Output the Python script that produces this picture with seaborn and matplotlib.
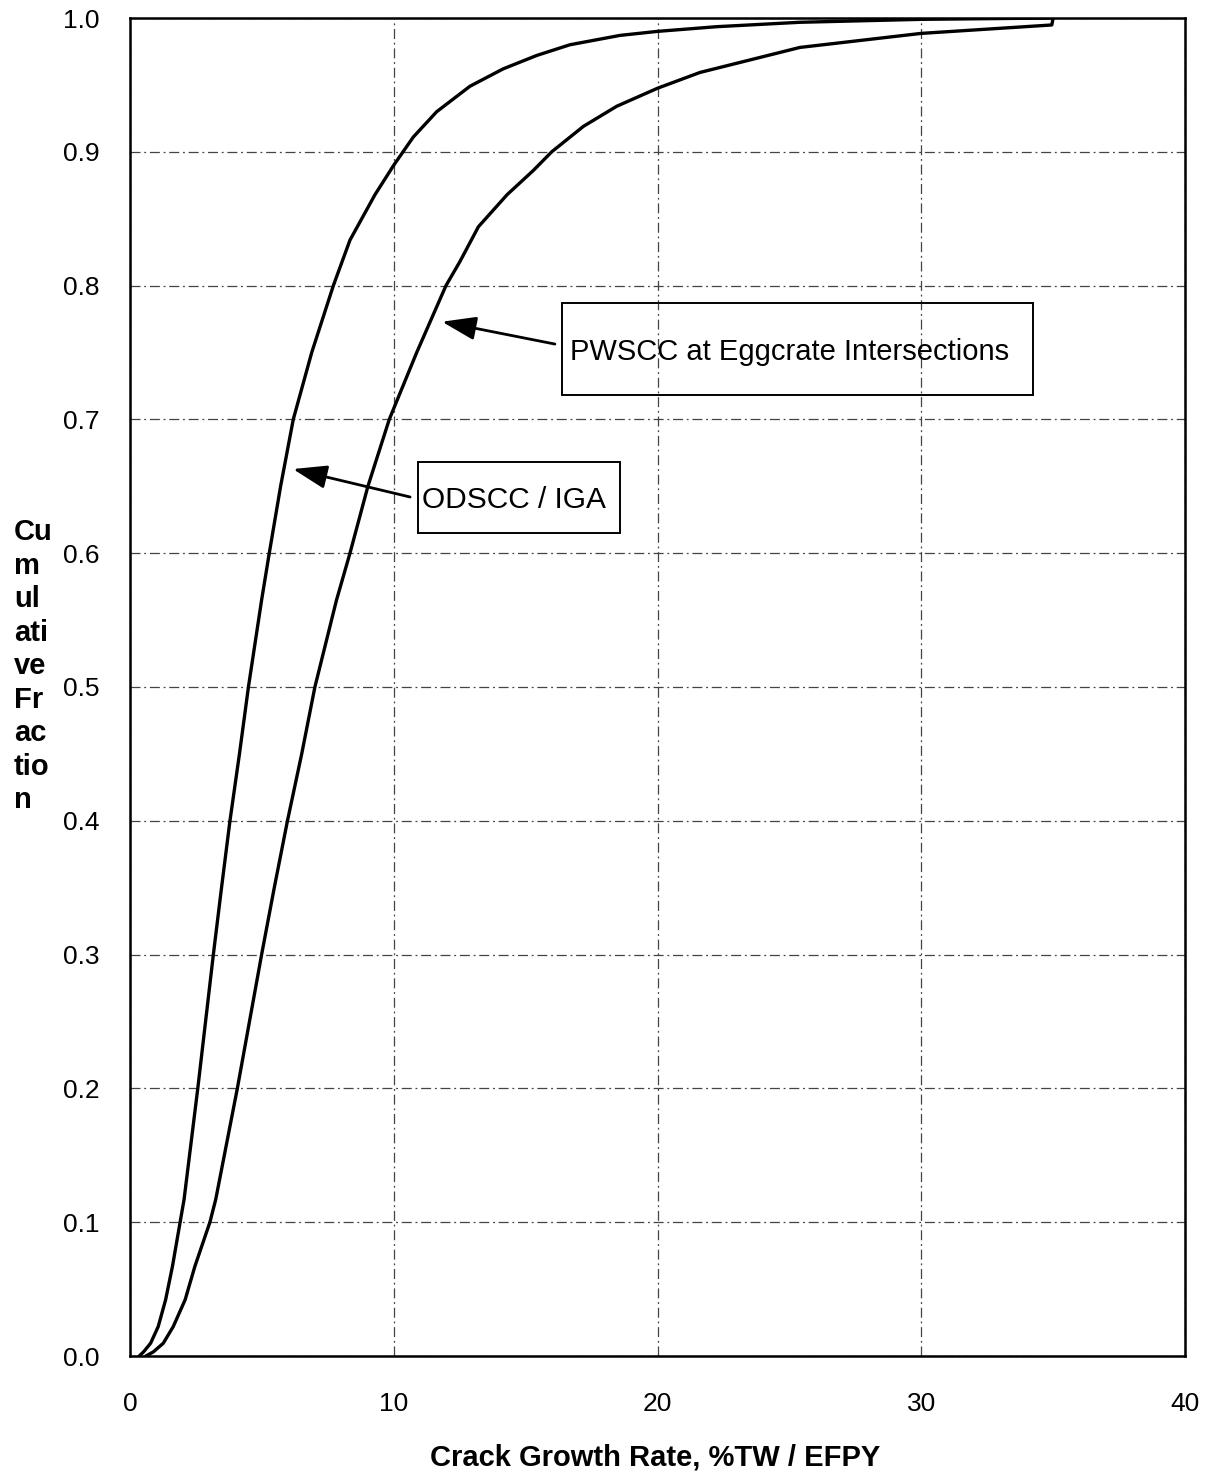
import matplotlib
matplotlib.use("Agg")
import matplotlib.pyplot as plt
from matplotlib.patches import Rectangle
import pandas as pd
import seaborn as sns

# Cumulative distributions of crack growth rate (%TW / EFPY)
odscc_rate = [0.35, 0.51, 0.78, 1.07, 1.35, 1.61, 1.90, 2.05, 2.57, 3.16, 3.47,
              3.79, 4.15, 4.49, 4.99, 5.28, 5.71, 6.19, 6.89, 7.71, 8.34, 9.29,
              10.0, 10.74, 11.63, 12.89, 14.15, 15.42, 16.68, 18.58, 20.0, 22.24,
              25.4, 30.0, 35.0]
odscc_frac = [0.0, 0.003, 0.0095, 0.022, 0.042, 0.067, 0.10, 0.117, 0.20, 0.30,
              0.35, 0.40, 0.45, 0.50, 0.565, 0.60, 0.65, 0.70, 0.75, 0.80, 0.834,
              0.868, 0.890, 0.911, 0.930, 0.949, 0.962, 0.972, 0.980, 0.987,
              0.990, 0.9935, 0.9968, 0.999, 1.0]

pwscc_rate = [0.60, 0.88, 1.26, 1.64, 2.09, 2.46, 3.03, 3.25, 4.07, 4.99, 5.47,
              5.97, 6.51, 7.01, 7.83, 8.34, 9.02, 9.83, 10.87, 11.98, 12.51,
              13.21, 14.30, 15.29, 15.99, 17.19, 18.45, 20.0, 21.61, 25.4, 30.0,
              34.95, 35.0]
pwscc_frac = [0.0, 0.003, 0.0095, 0.022, 0.042, 0.067, 0.10, 0.117, 0.20, 0.30,
              0.35, 0.40, 0.45, 0.50, 0.565, 0.60, 0.65, 0.70, 0.75, 0.80, 0.818,
              0.844, 0.868, 0.886, 0.90, 0.919, 0.934, 0.9475, 0.9593, 0.978,
              0.9885, 0.9948, 1.0]

x_ticks = [0, 10, 20, 30, 40]
y_ticks = [0.0, 0.1, 0.2, 0.3, 0.4, 0.5, 0.6, 0.7, 0.8, 0.9, 1.0]

sns.set_theme(style="white")
plt.rcParams["font.family"] = ["Liberation Sans", "DejaVu Sans"]
plt.rcParams["text.color"] = "black"

fig = plt.figure(figsize=(12.06, 14.74), dpi=100)
ax = fig.add_axes([130 / 1206, 1 - 1356 / 1474, (1185 - 130) / 1206, (1356 - 18) / 1474])

df_o = pd.DataFrame({"rate": odscc_rate, "frac": odscc_frac})
df_p = pd.DataFrame({"rate": pwscc_rate, "frac": pwscc_frac})
sns.lineplot(data=df_o, x="rate", y="frac", ax=ax, color="black", lw=2.4,
             sort=False, estimator=None, zorder=3)
sns.lineplot(data=df_p, x="rate", y="frac", ax=ax, color="black", lw=2.4,
             sort=False, estimator=None, zorder=3)

ax.set_xlim(0, 40)
ax.set_ylim(0, 1.0)
ax.set_xticks(x_ticks)
ax.set_xticklabels([str(v) for v in x_ticks])
ax.set_yticks(y_ticks)
ax.set_yticklabels([f"{v:.1f}" for v in y_ticks])
ax.tick_params(axis="both", length=0, labelsize=19, colors="black")
ax.tick_params(axis="y", pad=22)
ax.tick_params(axis="x", pad=26)

ax.grid(True, color="#444444", lw=0.9, linestyle=(0, (8, 3, 1.5, 3)))
for s in ax.spines.values():
    s.set_visible(True)
    s.set_color("black")
    s.set_linewidth(1.8)

ax.set_xlabel("")
ax.set_ylabel("")
fig.text(655 / 1206, 1 - 1457 / 1474, "Crack Growth Rate, %TW / EFPY",
         ha="center", va="center", fontsize=21, fontweight="bold", color="black")
fig.text(14 / 1206, 1 - 666 / 1474, "Cu\nm\nul\nati\nve\nFr\nac\ntio\nn",
         ha="left", va="center", fontsize=21, fontweight="bold", linespacing=1.25,
         color="black")

# Callout boxes with arrows pointing at each curve
ax.add_patch(Rectangle((16.38, 0.7182), 34.24 - 16.38, 0.7870 - 0.7182,
                       fill=False, ec="black", lw=1.4, zorder=4))
ax.text(25.0, 0.7504, "PWSCC at Eggcrate Intersections", ha="center",
        va="center", fontsize=21, color="black", zorder=5)
ax.annotate("", xy=(11.83, 0.7730), xytext=(16.11, 0.7563),
            arrowprops=dict(arrowstyle="-|>,head_length=1.3,head_width=0.45",
                            mutation_scale=16, color="black", lw=2, shrinkA=0, shrinkB=0),
            zorder=5)

ax.add_patch(Rectangle((10.92, 0.6151), 18.58 - 10.92, 0.6682 - 0.6151,
                       fill=False, ec="black", lw=1.4, zorder=4))
ax.text(14.56, 0.6398, "ODSCC / IGA", ha="center", va="center",
        fontsize=21.5, color="black", zorder=5)
ax.annotate("", xy=(6.18, 0.6629), xytext=(10.62, 0.6420),
            arrowprops=dict(arrowstyle="-|>,head_length=1.3,head_width=0.45",
                            mutation_scale=16, color="black", lw=2, shrinkA=0, shrinkB=0),
            zorder=5)

fig.savefig("out.png", dpi=100, facecolor="white")
